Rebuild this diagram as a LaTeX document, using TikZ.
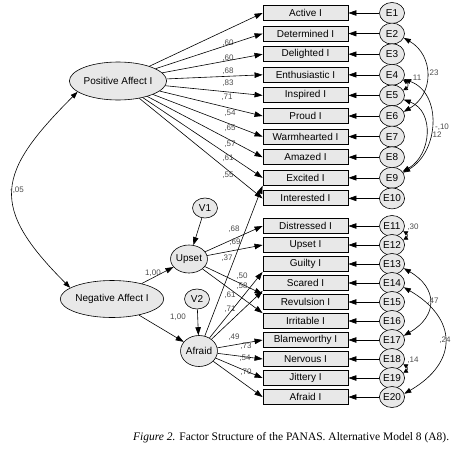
\documentclass[tikz,border=0pt]{standalone}
\usepackage{fontspec}
\setmainfont{Liberation Sans}
\newfontfamily\capfont{Liberation Serif}
\usetikzlibrary{shapes.geometric,arrows.meta}

\tikzset{
    latent/.style={ellipse, draw, fill=gray!18, line width=0.6pt, inner sep=0pt},
    item/.style={rectangle, draw, fill=gray!18, line width=0.9pt,
        minimum width=85pt, minimum height=15pt, inner sep=0pt},
    err/.style={latent, minimum width=25pt, minimum height=21pt},
    load/.style={-{Triangle[length=8pt,width=5.5pt]}, line width=0.6pt},
    cov/.style={{Triangle[length=7pt,width=5pt]}-{Triangle[length=7pt,width=5pt]}, line width=0.6pt},
    smallcov/.style={{Triangle[length=4.5pt,width=4.5pt]}-{Triangle[length=4.5pt,width=4.5pt]}, line width=0.6pt},
    coef/.style={font=\fontsize{8}{9}\selectfont, text=black!70, inner sep=0pt},
}

\begin{document}
\begin{tikzpicture}[x=1pt, y=1pt, font=\fontsize{10}{12}\selectfont]
    \useasboundingbox (0,0) rectangle (470,-450);

    % factors
    \node[latent, minimum width=87pt, minimum height=38pt] (pa) at (118,-81) {Positive Affect I};
    \node[latent, minimum width=87pt, minimum height=37pt] (na) at (112,-299) {Negative Affect I};
    \node[latent, minimum width=35pt, minimum height=28pt] (up) at (189,-259) {Upset};
    \node[latent, minimum width=33pt, minimum height=31pt] (af) at (199,-351) {Afraid};
    \node[latent, minimum width=25pt, minimum height=20pt] (v1) at (205,-208) {V1};
    \node[latent, minimum width=25pt, minimum height=20pt] (v2) at (197,-299) {V2};

    % items with their errors
    \foreach \n/\txt in {1/Active I, 2/Determined I, 3/Delighted I, 4/Enthusiastic I,
        5/Inspired I, 6/Proud I, 7/Warmhearted I, 8/Amazed I, 9/Excited I, 10/Interested I} {
        \pgfmathsetmacro\yy{-13-20.6*(\n-1)}
        \node[item] (i\n) at (305.5,\yy) {\txt};
        \node[err] (e\n) at (392,\yy) {E\n};
        \draw[load] (e\n) -- (i\n);
    }
    \foreach \n/\txt in {11/Distressed I, 12/Upset I, 13/Guilty I, 14/Scared I, 15/Revulsion I,
        16/Irritable I, 17/Blameworthy I, 18/Nervous I, 19/Jittery I, 20/Afraid I} {
        \pgfmathsetmacro\yy{-226-19*(\n-11)}
        \node[item] (i\n) at (305.5,\yy) {\txt};
        \node[err] (e\n) at (392,\yy) {E\n};
        \draw[load] (e\n) -- (i\n);
    }

    % positive affect loadings
    \foreach \n/\v/\lx/\ly in {1/60/228/43, 2/60/228/58, 3/68/228/71, 4/83/228/83, 5/71/227/97,
        6/54/230/113, 7/65/230/128, 8/57/230/144, 9/61/228/158, 10/55/228/175} {
        \draw[load] (pa) -- (i\n.west);
        \node[coef] (lp\n) at (\lx,-\ly) {,\v};
    }

    % negative affect structure
    \draw[load] (na) -- (up);
    \draw[load] (na) -- (af);
    \draw[load] (v1) -- (up);
    \draw[load] (v2) -- (af);
    \node[coef] (lup) at (153,-273) {1,00};
    \node[coef] (laf) at (178,-317) {1,00};

    \draw[load] (up) -- (i11.west);
    \draw[load] (up) -- (i12.west);
    \draw[load] (up) -- (i15.north west);
    \draw[load] (up) -- (i16.north west);
    \draw[load] (af) -- (i9.south west);
    \draw[load] (af) -- (i13.south west);
    \draw[load] (af) -- (i14.south west);
    \foreach \n in {17,18,19,20}
        \draw[load] (af) -- (i\n.west);

    \foreach \v/\lx/\ly [count=\k] in {68/234/229, 69/235/242, 37/227/258, 50/242/276, 58/242/286,
        61/230/295, 71/230/309, 49/234/337, 73/246/346, 54/245/358, 70/246/372}
        \node[coef] (ln\k) at (\lx,-\ly) {,\v};

    % covariances
    \draw[cov] (pa.195) to[out=225, in=135, looseness=1.5] (na.165);
    \node[coef] (cpn) at (17,-190) {-,05};

    \draw[cov] (e2.-20) to[out=-30, in=30, looseness=1.22] (e6.20);
    \draw[cov] (e4.-20) to[out=-20, in=30, looseness=1.13] (e9.25);
    \draw[cov] (e5.-20) to[out=-20, in=30, looseness=1.18] (e9.30);
    \draw[smallcov] (e4.-25) to[out=-30, in=30, looseness=1.5] (e5.25);
    \node[coef] (c23) at (433,-73) {,23};
    \node[coef] (c11) at (416,-78) {,11};
    \node[coef] (c10) at (442,-127) {-,10};
    \node[coef] (c12) at (436,-135) {,12};

    \draw[smallcov] (e11.-25) to[out=-30, in=30, looseness=1.5] (e12.25);
    \draw[cov] (e13.-20) to[out=-30, in=30, looseness=1.5] (e17.20);
    \draw[cov] (e14.-20) to[out=-30, in=30, looseness=1.5] (e20.15);
    \draw[smallcov] (e18.-25) to[out=-30, in=30, looseness=1.5] (e19.25);
    \node[coef] (c30) at (413,-227) {,30};
    \node[coef] (c47) at (433,-301) {,47};
    \node[coef] (c24) at (445,-340) {,24};
    \node[coef] (c14) at (413,-360) {,14};

    % caption
    \node[anchor=base west, inner sep=0pt, font=\capfont\fontsize{11.5}{13}\selectfont] (cap) at (133,-440)
        {\textit{Figure 2.} Factor Structure of the PANAS. Alternative Model 8 (A8).};
\end{tikzpicture}
\end{document}
